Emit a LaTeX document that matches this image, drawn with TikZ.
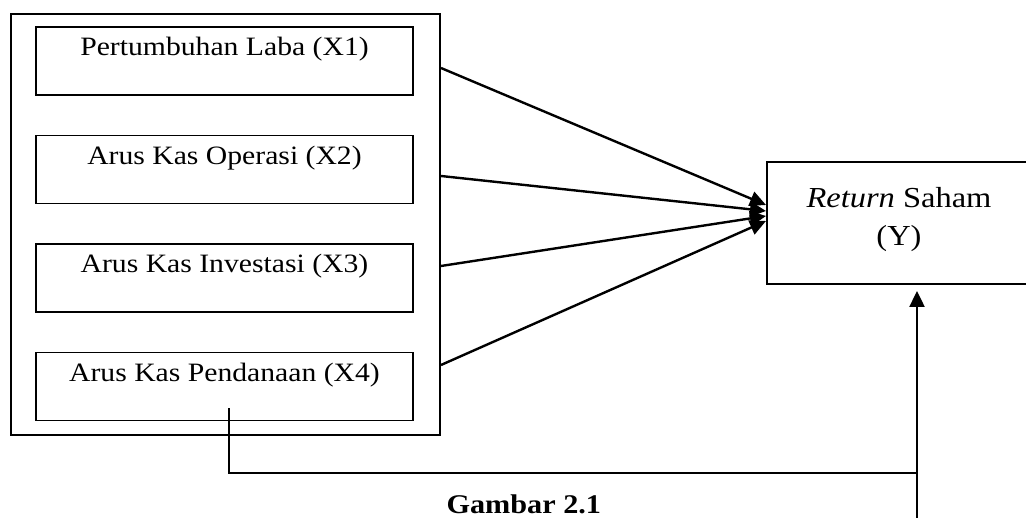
\documentclass[tikz,border=0pt]{standalone}
\usepackage{fontspec}
\setmainfont[FakeStretch=1.12]{Liberation Serif}
\usetikzlibrary{arrows.meta, positioning, calc}

\begin{document}
\begin{tikzpicture}[
    x=1pt, y=1pt,
    node distance=39pt,
    varbox/.style={rectangle, draw, line width=1.6pt, minimum width=377pt, text height=29pt, text depth=39pt, inner ysep=0pt, font=\fontsize{26.5}{32}\selectfont},
    arrow/.style={-{Triangle[length=16pt, width=15pt]}, line width=2.4pt},
]
    \useasboundingbox (0,0) rectangle (1026,518);

    \node[draw, line width=2pt, minimum width=429pt, minimum height=421pt] (outer) at (225.5,293.5) {};
    \node[varbox, anchor=north] (x1) at (224.5,492) {Pertumbuhan Laba (X1)};
    \node[varbox, below=of x1] (x2) {Arus Kas Operasi (X2)};
    \node[varbox, below=of x2] (x3) {Arus Kas Investasi (X3)};
    \node[varbox, below=of x3] (x4) {Arus Kas Pendanaan (X4)};

    \node[draw, line width=2pt, minimum width=264pt, minimum height=122pt, align=center, font=\fontsize{29}{38}\selectfont] (y) at (899,295) {\textit{Return} Saham\\(Y)\\[-24pt]};

    \draw[arrow] ($(outer.north east)+(0,-55)$) -- ($(y.west)+(0,18)$);
    \draw[arrow] ($(outer.north east)+(0,-163)$) -- ($(y.west)+(0,12)$);
    \draw[arrow] ($(outer.north east)+(0,-253)$) -- ($(y.west)+(0,7)$);
    \draw[arrow] ($(outer.north east)+(0,-352)$) -- ($(y.west)+(0,2)$);

    \coordinate (foot) at (917,0);
    \coordinate (knee) at (917,45);
    \draw[line width=1.3pt] ($(x4.south)+(4.5,13)$) |- (knee);
    \draw[arrow] (foot) -- ($(y.south)+(18,-6)$);

    \node[anchor=base west, font=\fontsize{27}{32}\selectfont\bfseries] (cap) at (443,4) {Gambar 2.1};
\end{tikzpicture}
\end{document}
